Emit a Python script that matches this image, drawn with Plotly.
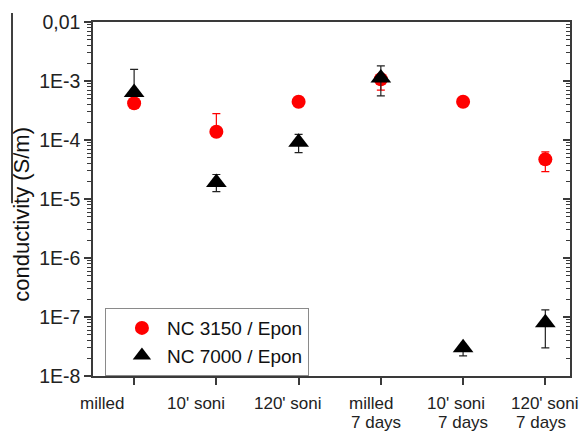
import plotly.graph_objects as go

# ---- data ----
categories = ["milled", "10' soni", "120' soni", "milled\n7 days", "10' soni\n7 days", "120' soni\n7 days"]

nc3150 = [4.2e-4, 1.38e-4, 4.45e-4, 1.07e-3, 4.45e-4, 4.7e-5]
nc3150_hi = [4.2e-4, 2.8e-4, 4.45e-4, 1.2e-3, 4.45e-4, 6.3e-5]
nc3150_lo = [4.2e-4, 1.2e-4, 4.45e-4, 7.0e-4, 4.45e-4, 2.9e-5]

nc7000 = [6.4e-4, 1.91e-5, 9.2e-5, 1.12e-3, 3.0e-8, 8.0e-8]
nc7000_hi = [1.58e-3, 2.6e-5, 1.25e-4, 1.8e-3, 3.0e-8, 1.32e-7]
nc7000_lo = [6.4e-4, 1.33e-5, 6.1e-5, 5.6e-4, 2.2e-8, 3.0e-8]

series_names = ["NC 3150 / Epon", "NC 7000 / Epon"]

ytick_vals = [1e-8, 1e-7, 1e-6, 1e-5, 1e-4, 1e-3, 1e-2]
ytick_text = ["1E-8", "1E-7", "1E-6", "1E-5", "1E-4", "1E-3", "0,01"]

# label offsets (px) of the category texts, as drawn in the reference
row1_shift = [-32, -20, -11, -10, -7, 0]
row2_shift = [0, 0, 0, -5, 0, -4]

FONT = "Liberation Sans, Arial, sans-serif"
AX = "#3a3a3a"

xidx = list(range(len(categories)))

def plus(v, hi):
    return [h - a for a, h in zip(v, hi)]

def minus(v, lo):
    return [a - l for a, l in zip(v, lo)]

fig = go.Figure()
fig.add_trace(go.Scatter(
    x=xidx, y=nc3150, mode="markers", name=series_names[0],
    marker=dict(symbol="circle", size=14, color="#ff0000", line=dict(width=0)),
    error_y=dict(type="data", symmetric=False, array=plus(nc3150, nc3150_hi),
                 arrayminus=minus(nc3150, nc3150_lo), color="#ff0000",
                 thickness=1.2, width=4),
))
fig.add_trace(go.Scatter(
    x=xidx, y=nc7000, mode="markers", name=series_names[1],
    marker=dict(symbol="triangle-up", size=18, color="#000000", line=dict(width=0)),
    error_y=dict(type="data", symmetric=False, array=plus(nc7000, nc7000_hi),
                 arrayminus=minus(nc7000, nc7000_lo), color="#222222",
                 thickness=1.2, width=4),
))
# invisible trace to carry the right-hand mirrored axis
fig.add_trace(go.Scatter(x=xidx[:1], y=nc3150[:1], yaxis="y2", mode="markers",
                         marker=dict(opacity=0), showlegend=False, hoverinfo="skip"))

minor_vals = [k * 10.0 ** e for e in range(-8, -2) for k in range(2, 10)]

fig.update_layout(
    width=581, height=431,
    margin=dict(l=93, r=11, t=22, b=55),
    paper_bgcolor="white", plot_bgcolor="white",
    font=dict(family=FONT, color="#222222"),
    showlegend=True,
    legend=dict(x=0.025, y=0.192, xanchor="left", yanchor="top",
                bordercolor="#8a8a8a", borderwidth=1, bgcolor="white",
                font=dict(size=19, family=FONT, color="#111111"),
                itemwidth=40, indentation=11, tracegroupgap=0),
    xaxis=dict(range=[-0.5, 5.3], tickmode="array", tickvals=xidx,
               ticktext=[""] * len(xidx), ticks="outside", ticklen=7,
               tickcolor=AX, tickwidth=1.5, showline=True, linecolor=AX,
               linewidth=1.5, mirror=True, showgrid=False, zeroline=False),
    yaxis=dict(type="log", range=[-8, -2], tickmode="array", tickvals=ytick_vals,
               ticktext=ytick_text, ticks="outside", ticklen=7, tickcolor=AX,
               tickwidth=1.5, showline=True, linecolor=AX, linewidth=1.5,
               showgrid=False, zeroline=False,
               tickfont=dict(size=19.5, family=FONT, color="#222222"),
               minor=dict(tickmode="array", tickvals=minor_vals, ticks="outside",
                          ticklen=4, tickcolor=AX, tickwidth=1, showgrid=False)),
    yaxis2=dict(type="log", range=[-8, -2], overlaying="y", side="right",
                tickmode="array", tickvals=ytick_vals, showticklabels=False,
                ticks="inside", ticklen=7, tickcolor=AX, tickwidth=1.5,
                showline=True, linecolor=AX, linewidth=1.5, showgrid=False,
                zeroline=False,
                minor=dict(tickmode="array", tickvals=minor_vals, ticks="inside",
                           ticklen=4, tickcolor=AX, tickwidth=1, showgrid=False)),
)

annotations = []
for i, c in enumerate(categories):
    lines = c.split("\n")
    annotations.append(dict(x=i, y=0, xref="x", yref="paper", text=lines[0],
                            showarrow=False, xanchor="center", yanchor="top",
                            xshift=row1_shift[i], yshift=-16,
                            font=dict(size=17, family=FONT, color="#222222")))
    if len(lines) > 1:
        annotations.append(dict(x=i, y=0, xref="x", yref="paper", text=lines[1],
                                showarrow=False, xanchor="center", yanchor="top",
                                xshift=row2_shift[i], yshift=-35,
                                font=dict(size=17, family=FONT, color="#222222")))
annotations.append(dict(x=-0.149, y=0.458, xref="paper", yref="paper",
                        text="conductivity (S/m)", textangle=-90, showarrow=False,
                        xanchor="center", yanchor="middle",
                        font=dict(size=22, family=FONT, color="#111111")))
fig.update_layout(annotations=annotations)

fig.add_shape(type="line", xref="paper", yref="paper",
              x0=-0.1698, x1=-0.1698, y0=1.0254, y1=0.488,
              line=dict(color="black", width=1.5))

fig.write_html("out.html", config={"displayModeBar": False},
               post_script="document.body.style.margin='0';document.body.style.overflow='hidden';")
